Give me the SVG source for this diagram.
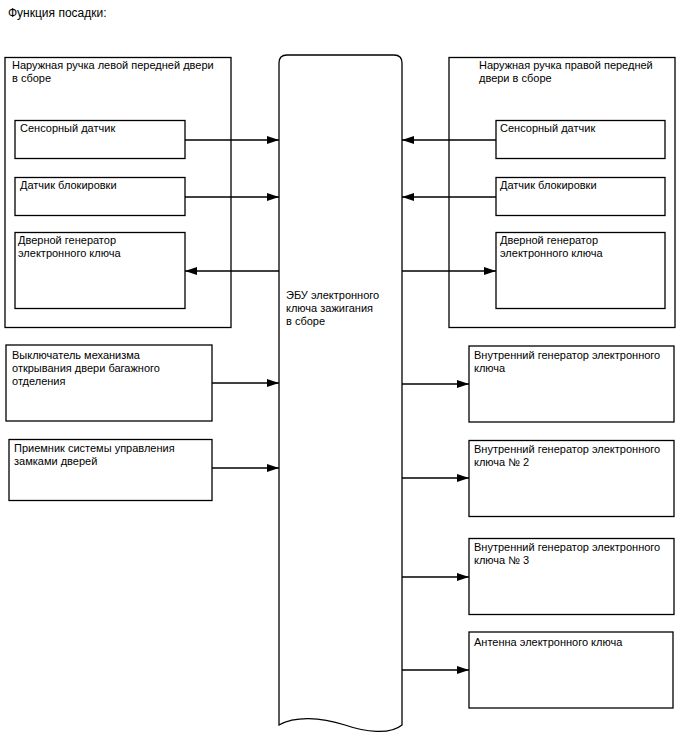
<svg xmlns="http://www.w3.org/2000/svg" width="688" height="755" viewBox="0 0 688 755">
<style>
.b{fill:#fff;stroke:#000;stroke-width:1.3}
.t{font-family:"Liberation Sans",Arial,sans-serif;font-size:11px;fill:#000}
.c line{stroke:#000;stroke-width:1.3}
</style>
<defs>
<marker id="a" markerWidth="12" markerHeight="8" refX="12" refY="4" orient="auto" markerUnits="userSpaceOnUse">
<path d="M0,0 L12,4 L0,8 Z" fill="#000"/>
</marker>
</defs>
<rect width="688" height="755" fill="#fff"/>
<text class="t" x="8" y="17" style="font-size:12px">Функция посадки:</text>

<g id="left-handle">
<rect class="b" x="5" y="57.5" width="226" height="270"/>
<text class="t" x="12" y="69">Наружная ручка левой передней двери</text>
<text class="t" x="12" y="82">в сборе</text>
</g>
<g id="left-touch"><rect class="b" x="15" y="120.5" width="170" height="38"/><text class="t" x="20" y="132">Сенсорный датчик</text></g>
<g id="left-lock"><rect class="b" x="15" y="177.5" width="170" height="38"/><text class="t" x="20" y="189">Датчик блокировки</text></g>
<g id="left-gen"><rect class="b" x="15" y="232.5" width="170" height="76"/><text class="t" x="18" y="244">Дверной генератор</text><text class="t" x="18" y="257">электронного ключа</text></g>

<g id="right-handle">
<rect class="b" x="449" y="57.5" width="226" height="270"/>
<text class="t" x="479" y="69">Наружная ручка правой передней</text>
<text class="t" x="479" y="82">двери в сборе</text>
</g>
<g id="right-touch"><rect class="b" x="496" y="120.5" width="169" height="38"/><text class="t" x="500" y="132">Сенсорный датчик</text></g>
<g id="right-lock"><rect class="b" x="496" y="177.5" width="169" height="38"/><text class="t" x="500" y="189">Датчик блокировки</text></g>
<g id="right-gen"><rect class="b" x="496" y="232.5" width="169" height="76"/><text class="t" x="500" y="244">Дверной генератор</text><text class="t" x="500" y="257">электронного ключа</text></g>

<g id="ecu">
<path class="b" d="M279,725 L279,63 Q279,55 287,55 L394,55 Q402,55 402,63 L402,725 C390,735 365,732 345,725 C320,717 295,716 279,725 Z"/>
<text class="t" x="286" y="299">ЭБУ электронного</text>
<text class="t" x="286" y="312">ключа зажигания</text>
<text class="t" x="286" y="325">в сборе</text>
</g>

<g id="trunk-switch"><rect class="b" x="6" y="345" width="206" height="76"/><text class="t" x="12" y="359">Выключатель механизма</text><text class="t" x="12" y="372">открывания двери багажного</text><text class="t" x="12" y="385">отделения</text></g>
<g id="receiver"><rect class="b" x="9" y="439.5" width="203" height="61"/><text class="t" x="14" y="452">Приемник системы управления</text><text class="t" x="14" y="465">замками дверей</text></g>

<g id="int-gen1"><rect class="b" x="469" y="346" width="205" height="76"/><text class="t" x="474" y="359">Внутренний генератор электронного</text><text class="t" x="474" y="372">ключа</text></g>
<g id="int-gen2"><rect class="b" x="469" y="440.5" width="205" height="76"/><text class="t" x="474" y="453">Внутренний генератор электронного</text><text class="t" x="474" y="466">ключа № 2</text></g>
<g id="int-gen3"><rect class="b" x="469" y="538.5" width="205" height="76"/><text class="t" x="474" y="551">Внутренний генератор электронного</text><text class="t" x="474" y="564">ключа № 3</text></g>
<g id="antenna"><rect class="b" x="469" y="632" width="204" height="76"/><text class="t" x="474" y="646">Антенна электронного ключа</text></g>

<g class="c" id="connectors">
<line x1="185" y1="140" x2="279" y2="140" marker-end="url(#a)"/>
<line x1="185" y1="197" x2="279" y2="197" marker-end="url(#a)"/>
<line x1="279" y1="271" x2="185" y2="271" marker-end="url(#a)"/>
<line x1="496" y1="140" x2="402" y2="140" marker-end="url(#a)"/>
<line x1="496" y1="197" x2="402" y2="197" marker-end="url(#a)"/>
<line x1="402" y1="271" x2="496" y2="271" marker-end="url(#a)"/>
<line x1="212" y1="383" x2="279" y2="383" marker-end="url(#a)"/>
<line x1="212" y1="468" x2="279" y2="468" marker-end="url(#a)"/>
<line x1="402" y1="384" x2="469" y2="384" marker-end="url(#a)"/>
<line x1="402" y1="478" x2="469" y2="478" marker-end="url(#a)"/>
<line x1="402" y1="577" x2="469" y2="577" marker-end="url(#a)"/>
<line x1="402" y1="670" x2="469" y2="670" marker-end="url(#a)"/>
</g>
</svg>
